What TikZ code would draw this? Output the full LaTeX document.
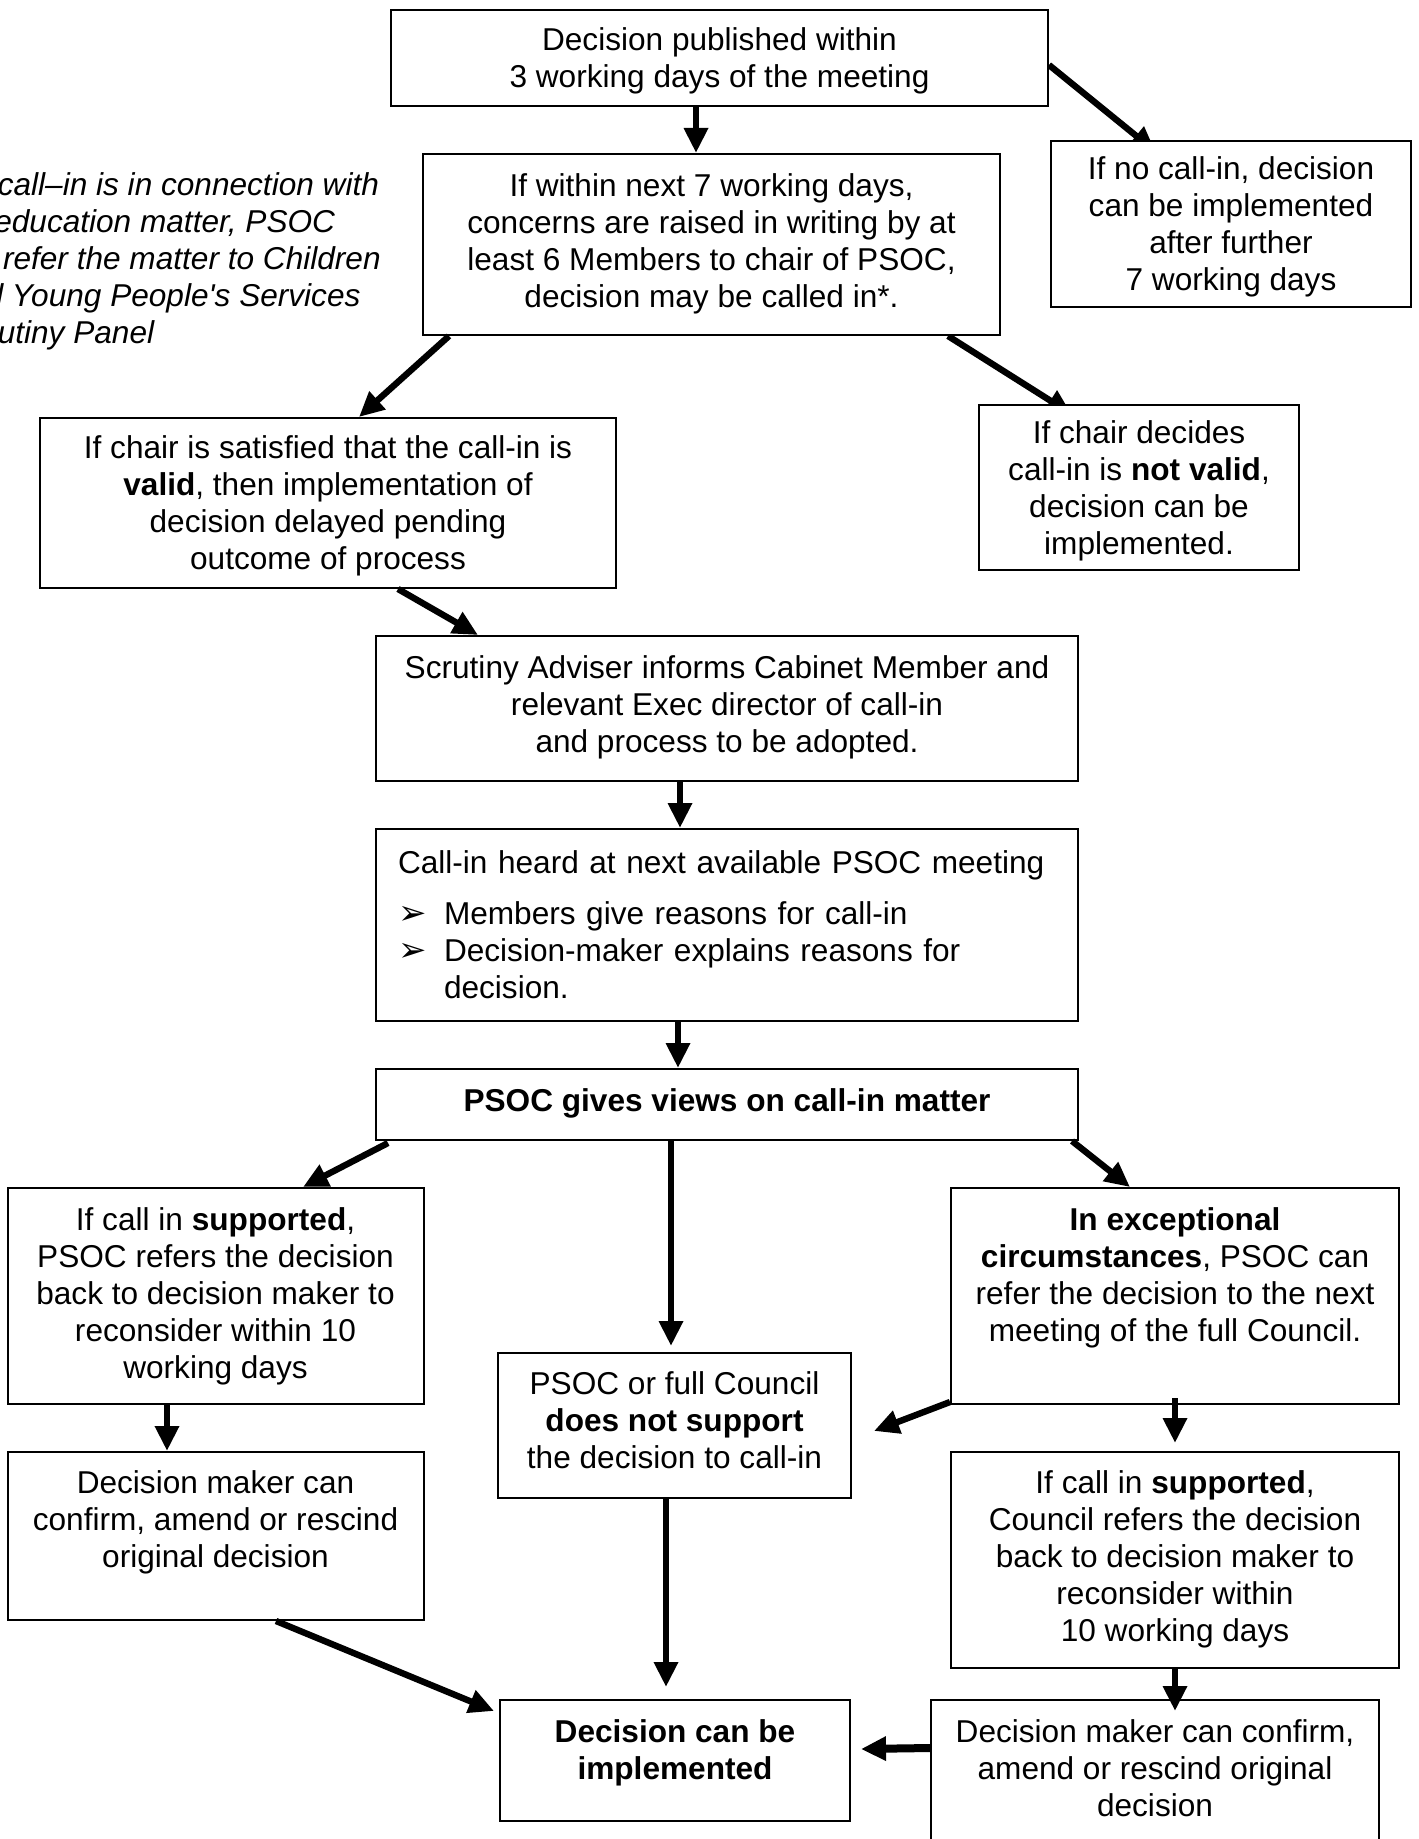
\documentclass[tikz,border=0pt]{standalone}
\usepackage{fontspec}
\setmainfont{Liberation Sans}
\newfontfamily\bulletfont{DejaVu Sans}
\usetikzlibrary{arrows.meta}
\pgfdeclarelayer{background}
\pgfsetlayers{background,main}
\newcommand{\arrowbullet}{\makebox[23pt][l]{\bulletfont\fontsize{17pt}{17pt}\selectfont ➢}}

\begin{document}
\begin{tikzpicture}[x=0.5pt,y=-0.5pt,
	every node/.style={font=\fontsize{15.8pt}{18.5pt}\selectfont},
	box/.style={draw, line width=1pt, fill=white, align=center, inner sep=0pt},
	arr/.style={line width=3.2pt, -{Triangle[length=12.5pt,width=11.5pt]}}]
			\useasboundingbox (0,0) rectangle (1418,1839);
			\node[anchor=north west, align=left, inner sep=0pt, font=\fontsize{15.8pt}{18.5pt}\selectfont\itshape] (note) at (-50,172) {* If call–in is in connection with\\an education matter, PSOC\\will refer the matter to Children\\and Young People\textquotesingle s Services\\Scrutiny Panel};
			\node[box, minimum width=328.5pt, minimum height=48pt, text depth=0pt] (A) at (719.5,58) {Decision published within\\3 working days of the meeting};
			\node[box, minimum width=288.5pt, minimum height=90.5pt, text depth=4.1pt] (B) at (711.5,244.5) {If within next 7 working days,\\concerns are raised in writing by at\\least 6 Members to chair of PSOC,\\decision may be called in*.};
			\node[box, minimum width=180pt, minimum height=83pt, text depth=0pt] (C) at (1231,224) {If no call-in, decision\\can be implemented\\after further\\7 working days};
			\node[box, minimum width=288pt, minimum height=85pt, text depth=0.8pt] (D) at (328,503) {If chair is satisfied that the call-in is\\\textbf{valid}, then implementation of\\decision delayed pending\\outcome of process};
			\node[box, minimum width=160pt, minimum height=82.5pt, text depth=0pt] (E) at (1139,487.5) {If chair decides\\call-in is \textbf{not valid},\\decision can be\\implemented.};
			\node[box, minimum width=351pt, minimum height=72.5pt, text depth=4.9pt] (F) at (727,708.5) {Scrutiny Adviser informs Cabinet Member and\\relevant Exec director of call-in\\and process to be adopted.};
			\node[box, align=left, text width=329pt, inner xsep=11pt, minimum height=96pt] (G) at (727,925) {Call-in heard at next available PSOC meeting\\[7pt]\arrowbullet Members give reasons for call-in\\\arrowbullet Decision-maker explains reasons for\\\hspace*{23pt}decision.};
			\node[box, minimum width=351pt, minimum height=35.5pt, text depth=4.3pt] (H) at (727,1104.5) {\textbf{PSOC gives views on call-in matter}};
			\node[box, minimum width=208pt, minimum height=108pt, text depth=3.4pt] (I) at (215.5,1296) {If call in \textbf{supported},\\PSOC refers the decision\\back to decision maker to\\reconsider within 10\\working days};
			\node[box, minimum width=224pt, minimum height=108pt, text depth=21.9pt] (J) at (1175,1296) {\textbf{In exceptional}\\\textbf{circumstances}, PSOC can\\refer the decision to the next\\meeting of the full Council.};
			\node[box, minimum width=176.5pt, minimum height=72.5pt, text depth=5.8pt] (K) at (674.5,1425.5) {PSOC or full Council\\\textbf{does not support}\\the decision to call-in};
			\node[box, minimum width=208pt, minimum height=84pt, text depth=16.7pt] (L) at (215.5,1536) {Decision maker can\\confirm, amend or rescind\\original decision};
			\node[box, minimum width=224pt, minimum height=108pt, text depth=3.7pt] (M) at (1175,1560) {If call in \textbf{supported},\\Council refers the decision\\back to decision maker to\\reconsider within\\10 working days};
			\node[box, minimum width=175pt, minimum height=60.5pt, text depth=11.2pt] (N) at (675,1760.5) {\textbf{Decision can be}\\\textbf{implemented}};
			\node[box, minimum width=224pt, minimum height=90pt, text depth=22.2pt] (O) at (1155,1790) {Decision maker can confirm,\\amend or rescind original\\decision};
			\begin{pgfonlayer}{background}
			\draw[arr] ([yshift=-3.5pt]A.east) -- ([xshift=-37.75pt,yshift=-5.8pt]C.north);
			\draw[arr] ([xshift=-26.5pt]B.south east) -- ([xshift=-33.75pt,yshift=-5pt]E.north);
			\end{pgfonlayer}
			\draw[arr] ([xshift=-11.75pt]A.south) -- ([xshift=-11.75pt]A.south |- B.north);
			\draw[arr] ([xshift=13.5pt]B.south west) -- ([xshift=15.5pt]D.north);
			\draw[arr] ([xshift=35pt]D.south) -- ([xshift=51.5pt]F.north west);
			\draw[arr] ([xshift=-23.5pt]F.south) -- ([xshift=-23.5pt]G.north);
			\draw[arr] ([xshift=-24.5pt]G.south) -- ([xshift=-24.5pt]H.north);
			\draw[arr] ([xshift=6.5pt,yshift=-1pt]H.south west) -- ([xshift=43.75pt]I.north);
			\draw[arr] ([xshift=-28pt]H.south) -- ([xshift=-1.75pt,yshift=3pt]K.north);
			\draw[arr] ([xshift=-3.5pt]H.south east) -- ([xshift=-22.5pt]J.north);
			\draw[arr] ([xshift=-24.25pt]I.south) -- ([xshift=-24.25pt]L.north);
			\draw[arr] ([yshift=1.5pt]J.south west) -- ([xshift=11pt,yshift=-2.75pt]K.east);
			\draw[arr] ([yshift=3.5pt]J.south) -- ([yshift=4pt]M.north);
			\draw[arr] ([xshift=-4.25pt]K.south) -- ([xshift=-4.5pt,yshift=6pt]N.north);
			\draw[arr] ([xshift=30.25pt]L.south) -- ([xshift=-2.5pt,yshift=-6pt]N.north west);
			\draw[arr] (M.south) -- ([xshift=10pt,yshift=-6pt]O.north);
			\draw[arr, line width=4pt] ([yshift=-24.5pt]O.north west) -- ([xshift=5pt,yshift=5.75pt]N.east);
		\end{tikzpicture}
\end{document}
